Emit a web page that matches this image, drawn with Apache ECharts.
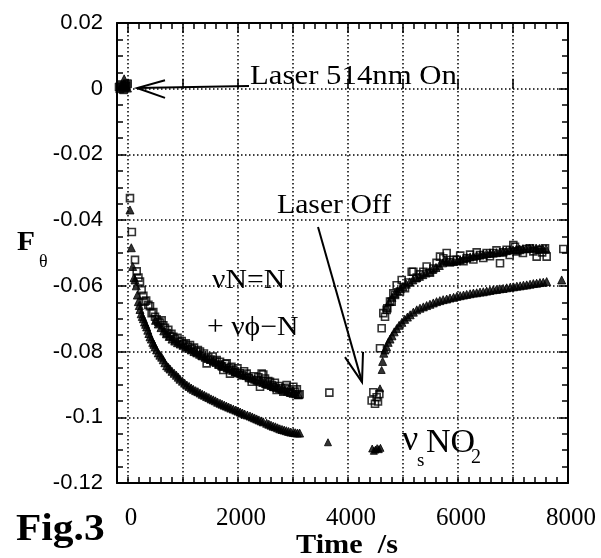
<!DOCTYPE html>
<html>
<head>
<meta charset="utf-8">
<script src="https://cdn.jsdelivr.net/npm/echarts@6/dist/echarts.min.js"></script>
<style>
  html, body { margin: 0; padding: 0; background: #fff; }
  #chart { width: 601px; height: 558px; }
</style>
</head>
<body>
<div id="chart"></div>
<script>
// Axis ranges and tick positions
const timeRange = [-200, 8000];
const fRange = [-0.12, 0.02];
const xMajorTicks = [0, 1000, 2000, 3000, 4000, 5000, 6000, 7000, 8000];
const xTickLabels = [0, 2000, 4000, 6000, 8000];

// nu_s NO2 band (filled triangles): [time /s, F_theta]
const no2LaserOn = [[-150, 0.0000], [-110, 0.0010], [-70, 0.0030], [-40, 0.0006], [-10, 0.0002]];
const no2Decay = [
  [36, -0.0369], [60, -0.0484], [85, -0.0541], [110, -0.0575], [127, -0.0582], [150, -0.0600],
  [170, -0.0628], [188, -0.0648], [205, -0.0660], [218, -0.0672], [240, -0.0685], [260, -0.0693],
  [279, -0.0700], [300, -0.0710], [320, -0.0717], [339, -0.0725], [360, -0.0735], [380, -0.0745],
  [400, -0.0755], [425, -0.0762], [450, -0.0772], [470, -0.0778], [491, -0.0786], [520, -0.0795],
  [550, -0.0804], [580, -0.0811], [612, -0.0817], [640, -0.0825], [670, -0.0834], [703, -0.0843],
  [735, -0.0848], [764, -0.0853], [800, -0.0860], [840, -0.0866], [880, -0.0872], [915, -0.0878],
  [945, -0.0884], [990, -0.0890], [1030, -0.0896], [1070, -0.0902], [1110, -0.0906], [1150, -0.0911],
  [1188, -0.0915], [1230, -0.0919], [1270, -0.0922], [1310, -0.0926], [1350, -0.0930], [1390, -0.0933],
  [1430, -0.0937], [1470, -0.0940], [1510, -0.0944], [1550, -0.0947], [1590, -0.0950], [1630, -0.0954],
  [1673, -0.0957], [1710, -0.0960], [1750, -0.0963], [1790, -0.0966], [1830, -0.0969], [1870, -0.0972],
  [1915, -0.0975], [1960, -0.0978], [2000, -0.0981], [2040, -0.0984], [2080, -0.0987], [2120, -0.0990],
  [2170, -0.0993], [2218, -0.0996], [2260, -0.0999], [2300, -0.1002], [2340, -0.1005], [2380, -0.1008],
  [2420, -0.1011], [2460, -0.1014], [2521, -0.1018], [2560, -0.1021], [2600, -0.1024], [2640, -0.1027],
  [2680, -0.1029], [2720, -0.1032], [2760, -0.1035], [2800, -0.1037], [2840, -0.1039], [2880, -0.1041],
  [2920, -0.1043], [2960, -0.1045], [3006, -0.1046], [3040, -0.1047], [3080, -0.1048], [3120, -0.1048]
];
const no2Dark = [
  [3636, -0.1076], [4440, -0.1095], [4470, -0.1102], [4500, -0.1098], [4530, -0.1094], [4560, -0.1097],
  [4590, -0.1093], [4582, -0.0912], [4612, -0.0856]
];
const no2Recovery = [
  [4630, -0.0830], [4650, -0.0805], [4673, -0.0795], [4700, -0.0785], [4730, -0.0772], [4764, -0.0762],
  [4800, -0.0752], [4840, -0.0740], [4885, -0.0730], [4930, -0.0720], [4980, -0.0711], [5030, -0.0702],
  [5080, -0.0695], [5130, -0.0688], [5188, -0.0680], [5250, -0.0673], [5309, -0.0668], [5370, -0.0664],
  [5430, -0.0660], [5490, -0.0656], [5551, -0.0652], [5610, -0.0648], [5670, -0.0645], [5730, -0.0642],
  [5794, -0.0640], [5855, -0.0637], [5920, -0.0635], [5980, -0.0632], [6040, -0.0630], [6100, -0.0628],
  [6158, -0.0626], [6220, -0.0624], [6280, -0.0622], [6340, -0.0621], [6400, -0.0619], [6460, -0.0618],
  [6521, -0.0616], [6580, -0.0614], [6640, -0.0612], [6700, -0.0611], [6760, -0.0609], [6820, -0.0608],
  [6885, -0.0606], [6950, -0.0604], [7010, -0.0603], [7070, -0.0601], [7130, -0.0600], [7190, -0.0598],
  [7249, -0.0597], [7310, -0.0595], [7370, -0.0593], [7430, -0.0592], [7490, -0.0590], [7550, -0.0589],
  [7612, -0.0587], [7885, -0.0582]
];

// nu N=N + nu phi-N band, filled points
const nnFilledDecay = [
  [500, -0.0705], [550, -0.0716], [600, -0.0727], [650, -0.0737], [700, -0.0746], [750, -0.0754],
  [800, -0.0762], [850, -0.0768], [900, -0.0773], [950, -0.0777], [1000, -0.0781], [1050, -0.0786],
  [1100, -0.0790], [1150, -0.0795], [1200, -0.0800], [1250, -0.0804], [1300, -0.0808], [1350, -0.0813],
  [1400, -0.0817], [1450, -0.0821], [1500, -0.0824], [1550, -0.0829], [1600, -0.0833], [1650, -0.0838],
  [1700, -0.0842], [1750, -0.0845], [1800, -0.0850], [1850, -0.0853], [1900, -0.0857], [1950, -0.0861],
  [2000, -0.0864], [2050, -0.0867], [2100, -0.0871], [2150, -0.0873], [2200, -0.0877], [2250, -0.0881],
  [2300, -0.0884], [2350, -0.0887], [2400, -0.0891], [2450, -0.0894], [2500, -0.0897], [2550, -0.0900],
  [2600, -0.0903], [2650, -0.0907], [2700, -0.0909], [2750, -0.0912], [2800, -0.0915], [2850, -0.0918],
  [2900, -0.0921], [2950, -0.0924], [3000, -0.0927], [3050, -0.0929], [3100, -0.0931]
];
const nnFilledRecovery = [
  [4700, -0.0665], [4750, -0.0648], [4800, -0.0635], [4850, -0.0624], [4900, -0.0616], [4950, -0.0609],
  [5000, -0.0602], [5060, -0.0595], [5120, -0.0588], [5180, -0.0582], [5240, -0.0576], [5300, -0.0571],
  [5360, -0.0566], [5420, -0.0561], [5480, -0.0556], [5540, -0.0550], [5600, -0.0544], [5660, -0.0538],
  [5720, -0.0530], [5760, -0.0522], [5800, -0.0525], [5860, -0.0527], [5920, -0.0526], [5980, -0.0524],
  [6040, -0.0521], [6100, -0.0518], [6160, -0.0514], [6220, -0.0512], [6280, -0.0510], [6340, -0.0508],
  [6400, -0.0506], [6460, -0.0504], [6520, -0.0502], [6580, -0.0501], [6640, -0.0500], [6700, -0.0499],
  [6760, -0.0497], [6820, -0.0495], [6880, -0.0493], [6940, -0.0491], [7000, -0.0490], [7060, -0.0489],
  [7120, -0.0488], [7180, -0.0487], [7240, -0.0486], [7300, -0.0485], [7360, -0.0485], [7420, -0.0485],
  [7480, -0.0486], [7540, -0.0487], [7600, -0.0487]
];

// nu N=N + nu phi-N band, open squares
const nnSquaresLaserOn = [[-160, 0.0005], [-120, 0.0012], [-80, -0.0003], [-40, 0.0008], [-10, 0.0015]];
const nnSquaresDecay = [
  [36, -0.0333], [70, -0.0436], [127, -0.0521], [158, -0.0556], [190, -0.0575], [218, -0.0587],
  [248, -0.0613], [279, -0.0630], [300, -0.0648], [330, -0.0645], [370, -0.0658], [400, -0.0662],
  [430, -0.0683], [460, -0.0680], [491, -0.0694], [520, -0.0702], [551, -0.0709], [582, -0.0712],
  [612, -0.0705], [642, -0.0720], [672, -0.0728], [703, -0.0744], [733, -0.0734], [760, -0.0752],
  [790, -0.0746], [824, -0.0755], [860, -0.0762], [900, -0.0758], [940, -0.0770], [976, -0.0768],
  [1010, -0.0778], [1050, -0.0775], [1090, -0.0785], [1127, -0.0780], [1160, -0.0792], [1200, -0.0788],
  [1240, -0.0800], [1270, -0.0795], [1309, -0.0800], [1340, -0.0812], [1380, -0.0806], [1430, -0.0836],
  [1460, -0.0818], [1500, -0.0824], [1540, -0.0815], [1580, -0.0830], [1612, -0.0826], [1650, -0.0840],
  [1673, -0.0831], [1710, -0.0845], [1733, -0.0856], [1770, -0.0838], [1794, -0.0836], [1830, -0.0850],
  [1855, -0.0867], [1880, -0.0846], [1915, -0.0856], [1950, -0.0862], [1990, -0.0851], [2030, -0.0866],
  [2070, -0.0872], [2110, -0.0860], [2158, -0.0867], [2200, -0.0880], [2249, -0.0892], [2290, -0.0875],
  [2340, -0.0887], [2370, -0.0878], [2400, -0.0907], [2430, -0.0867], [2460, -0.0870], [2491, -0.0882],
  [2521, -0.0897], [2550, -0.0890], [2582, -0.0892], [2620, -0.0902], [2642, -0.0907], [2670, -0.0895],
  [2703, -0.0917], [2740, -0.0905], [2780, -0.0912], [2824, -0.0922], [2860, -0.0910], [2885, -0.0902],
  [2920, -0.0915], [2960, -0.0925], [3006, -0.0907], [3036, -0.0922], [3070, -0.0915], [3097, -0.0932],
  [3120, -0.0930]
];
const nnSquaresDark = [
  [3661, -0.0925], [4430, -0.0949], [4461, -0.0924], [4491, -0.0959], [4521, -0.0939], [4545, -0.0952],
  [4570, -0.0929]
];
const nnSquaresRecovery = [
  [4582, -0.0790], [4612, -0.0729], [4642, -0.0683], [4673, -0.0694], [4703, -0.0673], [4715, -0.0668],
  [4764, -0.0648], [4794, -0.0648], [4824, -0.0623], [4855, -0.0628], [4885, -0.0598], [4945, -0.0617],
  [4976, -0.0582], [5036, -0.0607], [5100, -0.0590], [5158, -0.0557], [5188, -0.0557], [5250, -0.0575],
  [5310, -0.0565], [5370, -0.0557], [5430, -0.0541], [5490, -0.0560], [5551, -0.0547], [5610, -0.0530],
  [5673, -0.0511], [5733, -0.0516], [5794, -0.0500], [5850, -0.0528], [5915, -0.0521], [5976, -0.0521],
  [6040, -0.0508], [6100, -0.0525], [6158, -0.0516], [6220, -0.0505], [6280, -0.0520], [6340, -0.0498],
  [6400, -0.0506], [6460, -0.0515], [6521, -0.0500], [6580, -0.0510], [6642, -0.0500], [6700, -0.0492],
  [6764, -0.0531], [6820, -0.0498], [6885, -0.0490], [6940, -0.0506], [7006, -0.0476], [7036, -0.0481],
  [7080, -0.0495], [7127, -0.0491], [7180, -0.0500], [7250, -0.0488], [7309, -0.0486], [7370, -0.0495],
  [7430, -0.0511], [7480, -0.0490], [7530, -0.0498], [7582, -0.0486], [7612, -0.0511], [7915, -0.0488]
];

// Annotation arrows in data coordinates: shaft start, tip, two barb ends
const arrowLaserOn = { from: [2200, 0.0008], tip: [165, 0.0002], barbs: [[673, 0.0026], [673, -0.0028]] };
const arrowLaserOff = { from: [3455, -0.0421], tip: [4255, -0.0893], barbs: [[3945, -0.0817], [4273, -0.0801]] };

const SERIF = '"Liberation Serif", "Times New Roman", serif';
const SANS = '"Liberation Sans", Arial, Helvetica, sans-serif';
const INK = '#000';

const chart = echarts.init(document.getElementById('chart'), null, { renderer: 'canvas' });

const gridBox = { left: 117, right: 33, top: 23, bottom: 75 };
const dotted = { color: INK, width: 1.5, type: [1.5, 2.5] };

function xAxisBase(gridIndex, position) {
  return {
    type: 'value', gridIndex: gridIndex, position: position,
    min: timeRange[0], max: timeRange[1], interval: 200,
    axisLine: { show: false }, axisLabel: { show: false },
    axisTick: { show: false }, splitLine: { show: false }, minorTick: { show: false }
  };
}
function yAxisBase(gridIndex, position) {
  return {
    type: 'value', gridIndex: gridIndex, position: position,
    min: fRange[0], max: fRange[1], interval: 0.02,
    axisLine: { show: false }, axisLabel: { show: false },
    axisTick: { show: false }, splitLine: { show: false }, minorTick: { show: false }
  };
}

// grid 0: data, frame, minor x ticks, y ticks and y grid
const xBottomMinor = Object.assign(xAxisBase(0, 'bottom'), {
  axisLine: { show: true, onZero: false, lineStyle: { color: INK, width: 2 } },
  axisTick: { show: true, inside: true, length: 6, lineStyle: { color: INK, width: 1.5 } }
});
const xTopMinor = Object.assign(xAxisBase(0, 'top'), {
  axisLine: { show: true, onZero: false, lineStyle: { color: INK, width: 2 } },
  axisTick: { show: true, inside: true, length: 6, lineStyle: { color: INK, width: 1.5 } }
});
const yLeft = Object.assign(yAxisBase(0, 'left'), {
  axisLine: { show: true, onZero: false, lineStyle: { color: INK, width: 2 } },
  axisTick: { show: true, inside: true, length: 9, lineStyle: { color: INK, width: 1.5 } },
  minorTick: { show: true, splitNumber: 4, length: 6, lineStyle: { color: INK, width: 1.5 } },
  splitLine: { show: true, lineStyle: dotted },
  axisLabel: {
    show: true, margin: 14, color: INK, fontFamily: SANS, fontSize: 22,
    formatter: function (v) { const r = Math.round(v * 100) / 100; return r === 0 ? '0' : String(r); }
  }
});
const yRight = Object.assign(yAxisBase(0, 'right'), {
  axisLine: { show: true, onZero: false, lineStyle: { color: INK, width: 2 } },
  axisTick: { show: true, inside: true, length: 9, lineStyle: { color: INK, width: 1.5 } },
  minorTick: { show: true, splitNumber: 4, length: 6, lineStyle: { color: INK, width: 1.5 } }
});

// grid 1: same rectangle, major x ticks, x labels and x grid
const xBottomMajor = Object.assign(xAxisBase(1, 'bottom'), {
  axisTick: { show: true, inside: true, length: 10, customValues: xMajorTicks, lineStyle: { color: INK, width: 1.5 } },
  splitLine: { show: true, lineStyle: dotted },
  axisLabel: {
    show: true, customValues: xTickLabels, margin: 23, color: INK, fontFamily: SERIF, fontSize: 25,
    padding: [0, 0, 0, 6], formatter: function (v) { return String(v); }
  }
});
const xTopMajor = Object.assign(xAxisBase(1, 'top'), {
  axisTick: { show: true, inside: true, length: 10, customValues: xMajorTicks, lineStyle: { color: INK, width: 1.5 } }
});
const yHidden = Object.assign(yAxisBase(1, 'left'), { show: false });

function scatter(name, data, symbol, size, filled, z) {
  return {
    name: name, type: 'scatter', xAxisIndex: 0, yAxisIndex: 0, data: data,
    symbol: symbol, symbolSize: size, z: z, silent: true, animation: false,
    itemStyle: filled
      ? { color: INK, borderColor: INK, borderWidth: 1 }
      : { color: 'rgba(255,255,255,0)', borderColor: INK, borderWidth: 1.6 }
  };
}

chart.setOption({
  animation: false,
  backgroundColor: '#fff',
  grid: [Object.assign({ show: false }, gridBox), Object.assign({ show: false }, gridBox)],
  xAxis: [xBottomMinor, xTopMinor, xBottomMajor, xTopMajor],
  yAxis: [yLeft, yRight, yHidden],
  series: [
    scatter('NO2 laser on', no2LaserOn, 'triangle', 8, true, 3),
    scatter('NO2 decay', no2Decay, 'triangle', 8, true, 3),
    scatter('NO2 dark', no2Dark, 'triangle', 7, true, 3),
    scatter('NO2 recovery', no2Recovery, 'triangle', 8, true, 3),
    scatter('N=N filled decay', nnFilledDecay, 'triangle', 8, true, 4),
    scatter('N=N filled recovery', nnFilledRecovery, 'triangle', 8, true, 4),
    scatter('N=N laser on', nnSquaresLaserOn, 'rect', 8, true, 5),
    scatter('N=N decay', nnSquaresDecay, 'rect', 7, false, 5),
    scatter('N=N dark', nnSquaresDark, 'rect', 7, false, 5),
    scatter('N=N recovery', nnSquaresRecovery, 'rect', 7, false, 5)
  ]
});

function px(p) { return chart.convertToPixel({ gridIndex: 0 }, p); }
function arrowElements(a) {
  const tip = px(a.tip);
  return [
    { type: 'polyline', z: 50, shape: { points: [px(a.from), tip] }, style: { stroke: INK, lineWidth: 2, fill: null } },
    { type: 'polyline', z: 50, shape: { points: [px(a.barbs[0]), tip, px(a.barbs[1])] }, style: { stroke: INK, lineWidth: 2, fill: null } }
  ];
}
function label(text, x, y, font, scaleX, align) {
  return {
    type: 'text', x: x, y: y, z: 60, scaleX: scaleX || 1,
    style: { text: text, font: font, fill: INK, textAlign: align || 'left', textVerticalAlign: 'middle' }
  };
}

chart.setOption({
  graphic: [].concat(
    arrowElements(arrowLaserOn),
    arrowElements(arrowLaserOff),
    [
      label('Laser 514nm On', 250, 77, '28px ' + SERIF, 1.1),
      label('Laser Off', 277, 206, '27px ' + SERIF, 1.1),
      label('νN=N', 212, 281, '27px ' + SERIF, 1.1),
      label('+ νϕ−N', 207, 328, '27px ' + SERIF, 1.1),
      label('ν', 402, 441, '36px ' + SERIF, 1.0),
      label('s', 417, 461, '19px ' + SERIF, 1.0),
      label('NO', 426, 443, '34px ' + SERIF, 1.0),
      label('2', 471, 458, '20px ' + SERIF, 1.0),
      label('F', 17, 243, 'bold 28px ' + SERIF, 1.05),
      label('θ', 39, 262, '18px ' + SERIF, 1.0),
      label('Time  /s', 347, 546, 'bold 27px ' + SERIF, 1.12, 'center'),
      label('Fig.3', 16, 530, 'bold 37px ' + SERIF, 1.12)
    ]
  )
});
</script>
</body>
</html>
